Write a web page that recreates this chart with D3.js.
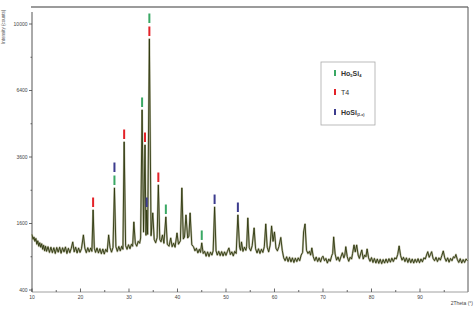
<!DOCTYPE html>
<html>
<head>
<meta charset="utf-8">
<script src="https://cdn.jsdelivr.net/npm/d3@7"></script>
<style>
body { margin: 0; background: #fff; }
svg { display: block; font-family: "Liberation Sans", Arial, sans-serif; }
</style>
</head>
<body>
<div id="chart"></div>
<script>
// tick values
var xTicks = [10, 20, 30, 40, 50, 60, 70, 80, 90];
var xMinor = [15, 25, 35, 45, 55, 65, 75, 85, 95];
var yTicks = [400, 1600, 3600, 6400, 10000];
var yMinor = [900, 2500, 4900, 8100];

// measured pattern: [2theta, counts]
var pattern = [
  [10.0,1350],[10.2,1240],[10.4,1290],[10.6,1200],[10.8,1260],[11.0,1140],[11.2,1210],[11.4,1100],
  [11.6,1170],[11.8,1080],[12.0,1150],[12.2,1040],[12.4,1120],[12.6,1010],[12.8,1100],[13.0,1000],
  [13.3,1090],[13.6,980],[13.9,1080],[14.2,975],[14.5,1070],[14.8,960],[15.1,1075],[15.4,985],
  [15.7,1080],[16.0,965],[16.3,1070],[16.6,990],[16.9,1085],[17.2,960],[17.5,1060],[17.8,975],
  [18.1,1060],[18.4,1186],[18.7,990],[19.0,1080],[19.3,970],[19.6,1065],[19.9,980],[20.2,1050],
  [20.6,1335],[20.9,1060],[21.2,975],[21.5,1070],[21.8,990],[22.1,1065],[22.35,1000],[22.6,1941],
  [22.85,1060],[23.1,980],[23.4,1065],[23.7,970],[24.0,1050],[24.3,955],[24.6,1045],[24.9,950],
  [25.2,1040],[25.5,990],[25.8,1335],[26.1,1070],[26.4,985],[26.7,1075],[27.0,2568],[27.3,1090],
  [27.6,1000],[27.9,1095],[28.2,1010],[28.5,1100],[28.75,1040],[29.0,4162],[29.3,1110],[29.6,1040],
  [29.9,1130],[30.2,1050],[30.5,1140],[30.75,1100],[31.0,1636],[31.3,1160],[31.6,1100],[31.9,1200],
  [32.2,1160],[32.4,1270],[32.7,5497],[33.0,1400],[33.3,4046],[33.5,1330],[33.65,1941],[33.85,1350],
  [34.2,9118],[34.55,1320],[34.9,1863],[35.2,1240],[35.5,1170],[35.8,1280],[36.05,2660],[36.35,1240],
  [36.6,1190],[36.9,1335],[37.2,1160],[37.6,1760],[37.9,1140],[38.25,1100],[38.6,1270],[38.9,1090],
  [39.2,1160],[39.5,1080],[39.9,1379],[40.2,1140],[40.6,1210],[40.9,2568],[41.2,1250],[41.45,1290],
  [41.75,1811],[42.1,1270],[42.35,1310],[42.6,1863],[42.95,1130],[43.3,1090],[43.6,1010],[43.9,1060],
  [44.2,970],[44.5,1040],[44.75,980],[45.0,1166],[45.3,960],[45.6,1000],[45.9,910],[46.2,990],
  [46.5,905],[46.8,985],[47.1,930],[47.35,1010],[47.65,2021],[47.95,1010],[48.2,930],[48.5,1000],
  [48.8,920],[49.1,995],[49.4,915],[49.7,990],[50.0,925],[50.3,1000],[50.6,1065],[50.9,940],
  [51.2,990],[51.5,915],[51.8,1000],[52.1,960],[52.45,1811],[52.8,1080],[53.0,1020],[53.2,1186],
  [53.5,1000],[53.8,1080],[54.1,1020],[54.25,1090],[54.5,1735],[54.8,1070],[55.1,1010],[55.4,1110],
  [55.8,1494],[56.1,1050],[56.4,970],[56.7,1050],[57.0,960],[57.3,1040],[57.6,980],[57.9,1090],
  [58.2,1588],[58.5,1080],[58.8,990],[59.1,1120],[59.4,1540],[59.7,1200],[60.0,1402],[60.3,1060],
  [60.6,1010],[60.9,1090],[61.3,1281],[61.6,1020],[61.9,880],[62.2,830],[62.5,900],[62.8,815],
  [63.1,890],[63.4,810],[63.7,880],[64.0,800],[64.3,875],[64.6,815],[64.9,880],[65.2,830],
  [65.5,930],[65.8,980],[66.0,1402],[66.3,1588],[66.6,1020],[66.9,960],[67.2,1000],[67.45,930],
  [67.7,1065],[68.0,900],[68.3,830],[68.6,895],[68.9,815],[69.2,880],[69.5,810],[69.8,890],
  [70.0,910],[70.3,830],[70.6,870],[70.9,790],[71.2,860],[71.5,820],[71.8,920],[72.0,960],
  [72.2,1292],[72.5,950],[72.8,840],[73.1,895],[73.4,820],[73.7,900],[74.0,973],[74.3,880],
  [74.5,930],[74.7,1089],[75.0,900],[75.3,820],[75.6,890],[75.9,860],[76.1,960],[76.4,1124],
  [76.65,990],[76.95,1124],[77.25,930],[77.5,870],[77.75,950],[78.0,1026],[78.3,860],[78.6,930],
  [78.85,900],[79.1,1045],[79.4,880],[79.7,820],[80.0,885],[80.3,800],[80.6,870],[80.9,790],
  [81.2,860],[81.5,785],[81.8,855],[82.1,780],[82.4,850],[82.7,790],[83.0,860],[83.3,795],
  [83.6,865],[83.9,805],[84.2,875],[84.5,815],[84.8,880],[85.1,860],[85.4,940],[85.7,1104],
  [86.0,920],[86.3,840],[86.6,890],[86.9,815],[87.2,880],[87.5,800],[87.8,870],[88.1,795],
  [88.4,860],[88.7,790],[89.0,855],[89.3,800],[89.6,865],[89.9,795],[90.2,860],[90.5,810],
  [90.8,880],[91.1,860],[91.35,930],[91.6,993],[91.9,890],[92.15,940],[92.4,993],[92.7,870],
  [93.0,830],[93.3,890],[93.6,815],[93.9,880],[94.2,840],[94.5,920],[94.8,1007],[95.1,880],
  [95.4,820],[95.7,880],[96.0,805],[96.3,870],[96.6,830],[96.9,900],[97.15,880],[97.4,941],
  [97.7,850],[98.0,800],[98.3,865],[98.6,790],[98.9,850],[99.2,800],[99.5,860],[99.8,830]
];

// phase reflections (2theta) and stack level above the peak
var phases = ["Ho5Si4", "T4", "HoSi(2-x)"];
var phaseColors = ["#3aa864", "#e32228", "#3c3c8e"];
var ho5si4Pos = [27.0, 32.7, 34.2, 37.6, 45.0];
var ho5si4Level = [0, 0, 1, 0, 0];
var t4Pos = [22.6, 29.0, 33.3, 34.2, 36.05];
var t4Level = [0, 0, 0, 0, 0];
var hosiPos = [27.0, 33.65, 47.65, 52.45];
var hosiLevel = [1, 0, 0, 0];

var w = 476, h = 314;

var svg = d3.select("#chart").append("svg")
    .attr("width", w)
    .attr("height", h);

var xScale = d3.scaleLinear().domain([10, 99.9]).range([32, 468]);
var yScale = d3.scaleSqrt().domain([400, 10000]).range([290, 24]);
var yTop = yScale(11050);
var yBase = 292;

// frame
svg.append("line").attr("x1", 31).attr("x2", 468).attr("y1", yTop).attr("y2", yTop)
    .attr("stroke", "#7a7a7a").attr("stroke-width", 1.5);
svg.append("line").attr("x1", 468).attr("x2", 468).attr("y1", yTop).attr("y2", yBase)
    .attr("stroke", "#555").attr("stroke-width", 1);
svg.append("line").attr("x1", 32).attr("x2", 32).attr("y1", 12).attr("y2", yBase)
    .attr("stroke", "#555").attr("stroke-width", 1);
svg.append("line").attr("x1", 32).attr("x2", 468).attr("y1", yBase).attr("y2", yBase)
    .attr("stroke", "#888").attr("stroke-width", 0.8);

// y ticks
svg.selectAll(".ytick").data(yTicks).enter().append("line")
    .attr("x1", 29).attr("x2", 32)
    .attr("y1", function(d) { return yScale(d); })
    .attr("y2", function(d) { return yScale(d); })
    .attr("stroke", "#444").attr("stroke-width", 0.8);
svg.selectAll(".yminor").data(yMinor).enter().append("line")
    .attr("x1", 30.5).attr("x2", 32)
    .attr("y1", function(d) { return yScale(d); })
    .attr("y2", function(d) { return yScale(d); })
    .attr("stroke", "#444").attr("stroke-width", 0.8);
svg.selectAll(".ylab").data(yTicks).enter().append("text")
    .attr("x", 27.5)
    .attr("y", function(d) { return yScale(d) + 1.8; })
    .attr("text-anchor", "end")
    .attr("font-size", "5px")
    .attr("fill", "#444")
    .text(function(d) { return d; });

// x ticks
svg.selectAll(".xtick").data(xTicks).enter().append("line")
    .attr("x1", function(d) { return xScale(d); })
    .attr("x2", function(d) { return xScale(d); })
    .attr("y1", yBase - 3.5).attr("y2", yBase)
    .attr("stroke", "#444").attr("stroke-width", 0.8);
svg.selectAll(".xminor").data(xMinor).enter().append("line")
    .attr("x1", function(d) { return xScale(d); })
    .attr("x2", function(d) { return xScale(d); })
    .attr("y1", yBase - 2).attr("y2", yBase)
    .attr("stroke", "#444").attr("stroke-width", 0.8);
svg.selectAll(".xlab").data(xTicks).enter().append("text")
    .attr("x", function(d) { return xScale(d); })
    .attr("y", 299)
    .attr("text-anchor", "middle")
    .attr("font-size", "5px")
    .attr("fill", "#444")
    .text(function(d) { return d; });

// axis titles
svg.append("text")
    .attr("x", 473).attr("y", 305)
    .attr("text-anchor", "end")
    .attr("font-size", "5px")
    .attr("fill", "#444")
    .text("2Theta (°)");
svg.append("text")
    .attr("transform", "translate(4.5,27) rotate(-90)")
    .attr("text-anchor", "middle")
    .attr("font-size", "4.5px")
    .attr("fill", "#555")
    .text("Intensity (counts)");

// pattern
var line = d3.line()
    .x(function(d) { return xScale(d[0]); })
    .y(function(d) { return yScale(d[1]); });

svg.append("path").datum(pattern)
    .attr("d", line)
    .attr("fill", "none")
    .attr("stroke", "#bcbca6")
    .attr("stroke-width", 2)
    .attr("stroke-linejoin", "round");
svg.append("path").datum(pattern)
    .attr("d", line)
    .attr("fill", "none")
    .attr("stroke", "#2c370c")
    .attr("stroke-width", 0.9);

// reflection markers
function peakTop(pos) {
    var m = 0;
    pattern.forEach(function(p) {
        if (Math.abs(p[0] - pos) < 0.08 && p[1] > m) m = p[1];
    });
    return m;
}
var markers = [];
ho5si4Pos.forEach(function(p, i) { markers.push({ pos: p, level: ho5si4Level[i], c: phaseColors[0] }); });
t4Pos.forEach(function(p, i) { markers.push({ pos: p, level: t4Level[i], c: phaseColors[1] }); });
hosiPos.forEach(function(p, i) { markers.push({ pos: p, level: hosiLevel[i], c: phaseColors[2] }); });

svg.selectAll(".mark").data(markers).enter().append("rect")
    .attr("x", function(d) { return xScale(d.pos) - 1; })
    .attr("y", function(d) { return yScale(peakTop(d.pos)) - 12.5 - d.level * 13; })
    .attr("width", 2)
    .attr("height", 9.5)
    .attr("fill", function(d) { return d.c; });

// legend
var lg = svg.append("g").attr("transform", "translate(321,62)");
lg.append("rect")
    .attr("x", 0).attr("y", 0).attr("width", 54).attr("height", 63)
    .attr("fill", "#fff").attr("stroke", "#aaa").attr("stroke-width", 0.8);
var legY = [11, 30, 50];
lg.selectAll(".lm").data(phases).enter().append("rect")
    .attr("x", 13)
    .attr("y", function(d, i) { return legY[i] - 3; })
    .attr("width", 2).attr("height", 6)
    .attr("fill", function(d, i) { return phaseColors[i]; });

var t1 = lg.append("text").attr("x", 20).attr("y", legY[0] + 2.5)
    .attr("font-size", "7px").attr("font-weight", "bold").attr("fill", "#333");
t1.append("tspan").text("Ho");
t1.append("tspan").attr("font-size", "4px").attr("dy", 1.5).text("5");
t1.append("tspan").attr("dy", -1.5).text("Si");
t1.append("tspan").attr("font-size", "4px").attr("dy", 1.5).text("4");

lg.append("text").attr("x", 20).attr("y", legY[1] + 2.5)
    .attr("font-size", "7px").attr("fill", "#333").text("T4");

var t3 = lg.append("text").attr("x", 20).attr("y", legY[2] + 2.5)
    .attr("font-size", "7px").attr("font-weight", "bold").attr("fill", "#333");
t3.append("tspan").text("HoSi");
t3.append("tspan").attr("font-size", "3.5px").attr("dy", 1.5).text("(2-x)");
</script>
</body>
</html>
